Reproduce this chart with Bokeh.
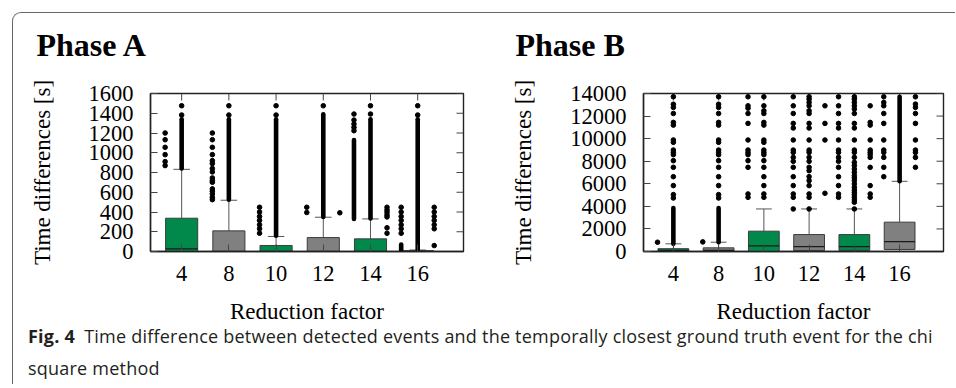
import math
from bokeh.plotting import figure
from bokeh.models import Range1d, FixedTicker, Div
from bokeh.layouts import row, column
from bokeh.embed import file_html
from bokeh.resources import INLINE

# ---------------- data ----------------
categories = ["4", "8", "10", "12", "14", "16"]

# Phase A (seconds)
a_q1 = [0, 0, 0, 0, 0, 0]
a_median = [27, 0, 0, 0, 0, 3]
a_q3 = [337, 209, 61, 141, 128, 6]
a_whisker = [832, 519, 152, 347, 330, 15]
a_dense_lo = [840, 525, 160, 350, 335, 20]
a_dense_hi = [1340, 1340, 1340, 1390, 1340, 1340]
a_center_dots = [[1476, 1382], [1476, 1382], [1476, 1382], [1476], [1476, 1392], [1476, 1382]]
a_left_dots = [
    [1200, 1132, 1055, 981, 910, 870],
    [1200, 1132, 1055, 981, 920, 890, 840, 806, 745, 720, 701, 634, 610, 583, 549, 525],
    [448, 400, 355, 315, 270, 230, 185],
    [448, 395],
    [1392, 1331, 1291, 1257, 1223],
    [448, 400, 355, 315, 270, 230, 185],
]
a_left_dense_lo = [None, None, None, None, 330, 0]
a_left_dense_hi = [None, None, None, None, 1129, 70]
a_right_dots = [
    [], [], [], [392],
    [448, 420, 397, 370, 350, 240, 185],
    [448, 400, 355, 315, 270, 230, 60],
]

# Phase B (seconds)
b_q1 = [0, 0, 0, 90, 90, 180]
b_median = [100, 100, 500, 440, 440, 880]
b_q3 = [250, 325, 1800, 1500, 1500, 2600]
b_whisker = [680, 825, 3770, 3770, 3770, 6220]
b_dense_lo = [680, 825, None, None, None, 6220]
b_dense_hi = [3860, 3860, None, None, None, 13710]
b_center_dots = [
    [13710, 13050, 12770, 12230, 11440, 11200, 9880, 9670, 8990, 8780, 8580, 8050, 7460, 6630, 5840, 5040, 4740],
    [13710, 13050, 12770, 12230, 11440, 11200, 9880, 9670, 8990, 8780, 8580, 8050, 7460, 6630, 5840, 5040, 4740],
    [13710, 12910, 12470, 12230, 11440, 11200, 9880, 9670, 8990, 8780, 8580, 8050, 7460, 6630, 5840, 5100, 4800],
    [13710, 13500, 13210, 12910, 12470, 12230, 11350, 10940, 9880, 8990, 8780, 8340, 7990, 7460, 7160,
     6630, 6280, 5840, 5100, 4800, 3770],
    [13710, 13500, 13210, 12910, 12620, 12230, 11350, 10940, 9880, 8990, 8780, 8340, 7900, 7610, 7310,
     7020, 6720, 6520, 6280, 5990, 5690, 5450, 5250, 5040, 4800, 4570, 4360, 3770],
    [],
]
b_left_dots = [
    [820],
    [850],
    [13710, 12910, 12700, 12230, 11350, 9880, 8990, 8780, 8580, 8050, 7460, 5100, 4800],
    [13710, 12910, 12230, 11350, 10940, 9880, 8990, 8780, 8340, 7990, 7460, 6630, 5840, 5100, 4800, 3770],
    [13710, 12910, 12230, 11350, 10940, 9880, 8990, 8780, 8340, 7990, 7460, 6630, 5840, 5100, 4800],
    [13710, 13210, 12910, 12230, 11350, 9880, 8990, 8780, 8340, 7460, 6630],
]
b_right_dots = [
    [], [], [],
    [12910, 11350, 9880, 5160],
    [12910, 11440, 11200, 9880, 8990, 8780, 8580, 8340, 7460, 5840, 5100, 4800],
    [13710, 13060, 12770, 12230, 11350, 9880, 8990, 8780, 8340, 7460],
]

a_yticks = [0, 200, 400, 600, 800, 1000, 1200, 1400, 1600]
b_yticks = [0, 2000, 4000, 6000, 8000, 10000, 12000, 14000]

# ---------------- style ----------------
GREEN = "#00894b"
GRAY = "#808080"
SERIF = "Liberation Serif"
BOX_W = 0.68
CAP_W = 0.35
SIDE = 0.35
DOT = 4.6
X0, X1 = 0.34, 6.97
TOP = 101


def panel(title, q1, med, q3, wh, dlo, dhi, cdots, ldots, ldlo, ldhi, rdots, yticks,
          border_left, frame_w, border_right, title_offset):
    xs = [i + 1 for i in range(len(categories))]
    p = figure(frame_width=frame_w, frame_height=158,
               min_border_left=border_left, min_border_right=border_right,
               min_border_top=TOP, min_border_bottom=89,
               x_range=Range1d(X0, X1), y_range=Range1d(yticks[0], yticks[-1]),
               output_backend="svg", toolbar_location=None, title=title)
    p.grid.visible = False
    p.outline_line_color = "#222222"
    p.outline_line_width = 1.4
    p.background_fill_color = "white"
    p.border_fill_color = None

    p.title.text_font = SERIF
    p.title.text_font_style = "bold"
    p.title.text_font_size = "32px"
    p.title.align = "left"
    p.title.offset = title_offset
    p.title.standoff = 61
    p.title.text_color = "black"

    p.xaxis.ticker = FixedTicker(ticks=xs)
    p.xaxis.major_label_overrides = {x: c for x, c in zip(xs, categories)}
    p.yaxis.ticker = FixedTicker(ticks=yticks)
    p.xaxis.axis_label = "Reduction factor"
    p.yaxis.axis_label = "Time differences [s]"

    for ax in p.axis:
        ax.major_tick_in = 7
        ax.major_tick_out = 0
        ax.minor_tick_in = 0
        ax.minor_tick_out = 0
        ax.axis_line_color = "#222222"
        ax.axis_line_width = 1.4
        ax.major_tick_line_color = "#444444"
        ax.major_tick_line_width = 1
        ax.major_label_text_font = SERIF
        ax.major_label_text_font_size = "22.5px"
        ax.major_label_text_color = "black"
        ax.axis_label_text_font = SERIF
        ax.axis_label_text_font_size = "23px"
        ax.axis_label_text_font_style = "normal"
        ax.axis_label_text_color = "black"
    p.yaxis.major_label_standoff = 17
    p.yaxis.axis_label_standoff = 31
    p.xaxis.major_label_standoff = 14
    p.xaxis.axis_label_standoff = 15

    # mirrored inward ticks on the top and right frame edges
    p.ray(x=xs, y=[yticks[-1]] * len(xs), length=7, length_units="screen",
          angle=-math.pi / 2, line_color="#444444", line_width=1)
    p.ray(x=[X1] * len(yticks), y=yticks, length=7, length_units="screen",
          angle=math.pi, line_color="#444444", line_width=1)

    colors = [GREEN if i % 2 == 0 else GRAY for i in range(len(xs))]
    # whiskers
    p.segment(x0=xs, y0=q3, x1=xs, y1=wh, line_color="#555555", line_width=1)
    p.segment(x0=xs, y0=[0] * len(xs), x1=xs, y1=q1, line_color="#555555", line_width=1)
    p.segment(x0=[x - CAP_W / 2 for x in xs], y0=wh, x1=[x + CAP_W / 2 for x in xs], y1=wh,
              line_color="#555555", line_width=1)
    # boxes
    p.vbar(x=xs, width=BOX_W, bottom=q1, top=q3, fill_color=colors,
           line_color="#3c3c3c", line_width=1)
    p.segment(x0=[x - BOX_W / 2 for x in xs], y0=med, x1=[x + BOX_W / 2 for x in xs], y1=med,
              line_color="#1a1a1a", line_width=1.3)

    # dense outlier runs
    sx, s0, s1 = [], [], []
    for x, lo, hi in zip(xs, dlo, dhi):
        if lo is not None:
            sx.append(x); s0.append(lo); s1.append(hi)
    for x, lo, hi in zip(xs, ldlo, ldhi):
        if lo is not None:
            sx.append(x - SIDE); s0.append(lo); s1.append(hi)
    p.segment(x0=sx, y0=s0, x1=sx, y1=s1, line_color="black", line_width=DOT, line_cap="round")

    # individual outliers
    px, py = [], []
    for x, c, l, r in zip(xs, cdots, ldots, rdots):
        for v in c:
            px.append(x); py.append(v)
        for v in l:
            px.append(x - SIDE); py.append(v)
        for v in r:
            px.append(x + SIDE); py.append(v)
    p.scatter(x=px, y=py, size=DOT, color="black")
    return p


pa = panel("Phase A", a_q1, a_median, a_q3, a_whisker, a_dense_lo, a_dense_hi, a_center_dots,
           a_left_dots, a_left_dense_lo, a_left_dense_hi, a_right_dots, a_yticks,
           137, 313, 17, -114)
pb = panel("Phase B", b_q1, b_median, b_q3, b_whisker, b_dense_lo, b_dense_hi, b_center_dots,
           b_left_dots, [None] * 6, [None] * 6, b_right_dots, b_yticks,
           163, 300, 12, -128)

caption = Div(
    text=('<span style="font-weight:700">Fig. 4</span>&ensp;Time difference between detected events and '
          'the temporally closest ground truth event for the chi<br>square method'),
    width=930, height=64, margin=(-20, 0, 0, 0),
    styles={"font-family": "'Open Sans'", "font-size": "18px", "line-height": "32px",
            "letter-spacing": "0.22px", "color": "#231f20", "padding-left": "15px",
            "white-space": "nowrap"},
)

layout = column(row(pa, pb, margin=(80 - TOP, 0, 0, 0)), caption, margin=(12, 0, 0, 12),
                styles={"border-top": "1.5px solid #666666", "border-left": "1.5px solid #666666",
                        "border-top-left-radius": "9px"})

open("out.html", "w").write(file_html(layout, INLINE))
